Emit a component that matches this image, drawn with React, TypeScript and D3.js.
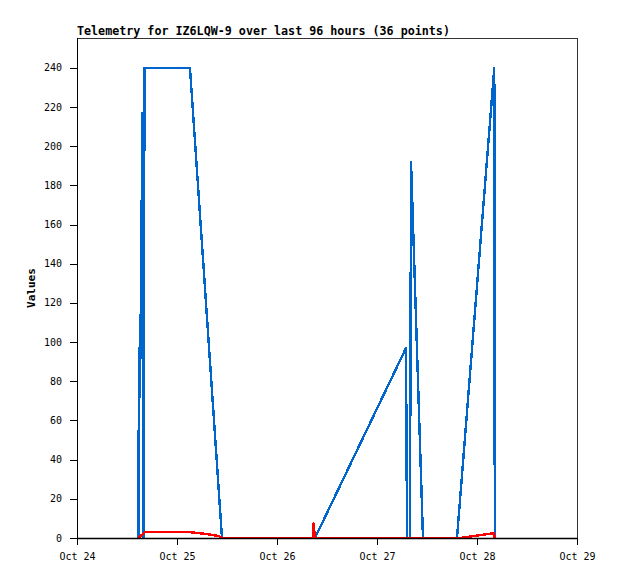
import React from "react";
import * as d3 from "d3";

const title = "Telemetry for IZ6LQW-9 over last 96 hours (36 points)";
const yLabel = "Values";

const blueTimes = [
  "2023-10-24T14:43", "2023-10-24T14:53", "2023-10-24T15:07", "2023-10-24T15:43",
  "2023-10-24T15:58", "2023-10-24T16:12", "2023-10-25T03:07", "2023-10-25T10:48",
  "2023-10-26T09:07", "2023-10-27T06:58", "2023-10-27T07:12", "2023-10-27T07:55",
  "2023-10-27T08:10", "2023-10-27T11:02", "2023-10-27T19:12", "2023-10-28T04:09",
  "2023-10-28T04:16",
];
const blueValues = [0, 97, 72, 217, 0, 240, 240, 0, 0, 97, 0, 0, 192, 0, 0, 240, 0];

const redTimes = [
  "2023-10-24T14:43", "2023-10-24T16:19", "2023-10-25T03:07", "2023-10-25T07:12",
  "2023-10-25T10:05", "2023-10-25T10:48", "2023-10-26T08:38", "2023-10-26T08:46",
  "2023-10-26T09:07", "2023-10-27T19:55", "2023-10-28T04:05", "2023-10-28T04:16",
];
const redValues = [0, 3, 3, 2, 1, 0, 0, 7.5, 0, 0, 2.5, 0];

const xTickLabels = ["Oct 24", "Oct 25", "Oct 26", "Oct 27", "Oct 28", "Oct 29"];
const xTickDates = [
  "2023-10-24T00:00", "2023-10-25T00:00", "2023-10-26T00:00",
  "2023-10-27T00:00", "2023-10-28T00:00", "2023-10-29T00:00",
];
const yTicks = [0, 20, 40, 60, 80, 100, 120, 140, 160, 180, 200, 220, 240];

const parse = (s: string) => new Date(s + ":00Z");

export default function App() {
  const W = 618, H = 579;
  const left = 77, right = 577, top = 38, bottom = 538;
  const x = d3.scaleUtc()
    .domain([parse(xTickDates[0]), parse(xTickDates[xTickDates.length - 1])])
    .range([left, right]);
  const y = d3.scaleLinear().domain([0, 255.3]).range([bottom, top]);

  const line = d3.line<[Date, number]>().x(d => x(d[0])).y(d => y(d[1]));
  const blue = line(blueTimes.map((t, i) => [parse(t), blueValues[i]] as [Date, number])) || "";
  const red = line(redTimes.map((t, i) => [parse(t), redValues[i]] as [Date, number])) || "";

  const mono = "'DejaVu Sans Mono', monospace";

  return (
    <svg width={W} height={H} style={{ position: "absolute", left: 0, top: 0, background: "#fff" }}>
      <rect x={0} y={0} width={W} height={H} fill="#fff" />
      <text x={left} y={35} fontFamily={mono} fontSize={11.7} fontWeight="bold" fill="#000">{title}</text>
      <path d={blue} fill="none" stroke="#0066cc" strokeWidth={2.4} strokeLinejoin="round" shapeRendering="crispEdges" />
      <path d={red} fill="none" stroke="#ff0000" strokeWidth={2.4} strokeLinejoin="round" shapeRendering="crispEdges" />
      {/* frame */}
      <line x1={left} x2={right} y1={top + 0.5} y2={top + 0.5} stroke="#333" strokeWidth={1} />
      <line x1={right + 0.5} x2={right + 0.5} y1={top} y2={bottom} stroke="#333" strokeWidth={1} />
      <line x1={left + 0.5} x2={left + 0.5} y1={top} y2={bottom + 7} stroke="#000" strokeWidth={1} />
      <line x1={left} x2={right + 1} y1={bottom + 0.5} y2={bottom + 0.5} stroke="#000" strokeWidth={1.5} />
      {yTicks.map(v => (
        <g key={v}>
          <line x1={70} x2={left} y1={Math.round(y(v)) + 0.5} y2={Math.round(y(v)) + 0.5} stroke="#000" />
          <text x={62} y={y(v) + 3.5} textAnchor="end" fontFamily={mono} fontSize={10} fill="#000">{v}</text>
        </g>
      ))}
      {xTickDates.map((d, i) => {
        const px = Math.round(x(parse(d))) + 0.5;
        return (
          <g key={d}>
            <line x1={px} x2={px} y1={bottom} y2={bottom + 7} stroke="#000" />
            <text x={px} y={560} textAnchor="middle" fontFamily={mono} fontSize={10} fill="#000">{xTickLabels[i]}</text>
          </g>
        );
      })}
      <text transform={`translate(35, ${(top + bottom) / 2}) rotate(-90)`} textAnchor="middle"
        fontFamily={mono} fontSize={11} fontWeight="bold" fill="#000">{yLabel}</text>
    </svg>
  );
}
